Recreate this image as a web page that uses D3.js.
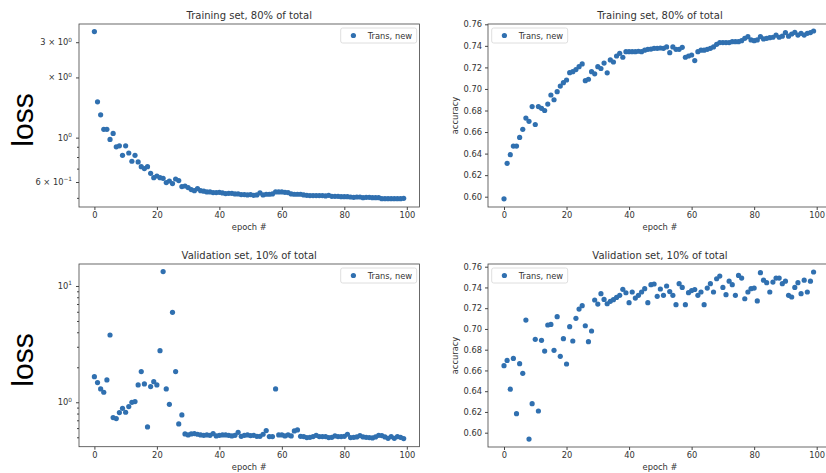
<!DOCTYPE html>
<html>
<head>
<meta charset="utf-8">
<script src="https://cdn.jsdelivr.net/npm/d3@7"></script>
<style>
body{margin:0;background:#fff}
svg text{font-family:"DejaVu Sans",sans-serif;fill:#333}
</style>
</head>
<body>
<div id="chart"></div>
<script>
var width = 826
var height = 473
var dotColor = "#3070b0"

var epochs = d3.range(0, 100)
var xTicks = [0, 20, 40, 60, 80, 100]
var accTicks = [0.60, 0.62, 0.64, 0.66, 0.68, 0.70, 0.72, 0.74, 0.76]
var seriesName = "Trans, new"

var trainLoss = [3.39, 1.51, 1.30, 1.10, 1.10, 0.98, 1.05, 0.90, 0.91, 0.816,
  0.91, 0.838, 0.762, 0.816, 0.756, 0.716, 0.70, 0.716, 0.663, 0.631,
  0.643, 0.631, 0.626, 0.596, 0.607, 0.589, 0.621, 0.610, 0.569, 0.573,
  0.563, 0.55, 0.543, 0.556, 0.543, 0.54, 0.535, 0.535, 0.531, 0.531,
  0.533, 0.529, 0.525, 0.527, 0.527, 0.523, 0.523, 0.519, 0.519, 0.517,
  0.519, 0.515, 0.517, 0.529, 0.517, 0.521, 0.521, 0.523, 0.535, 0.535,
  0.535, 0.533, 0.531, 0.523, 0.521, 0.521, 0.521, 0.517, 0.515, 0.513,
  0.513, 0.513, 0.513, 0.513, 0.511, 0.515, 0.509, 0.509, 0.509, 0.507,
  0.507, 0.507, 0.505, 0.503, 0.505, 0.505, 0.501, 0.503, 0.503, 0.501,
  0.501, 0.501, 0.495, 0.495, 0.495, 0.495, 0.495, 0.495, 0.495, 0.497]

var trainAcc = [0.598, 0.631, 0.639, 0.647, 0.647, 0.655, 0.6625, 0.673, 0.670, 0.6836,
  0.667, 0.6836, 0.682, 0.680, 0.686, 0.6944, 0.690, 0.6975, 0.7027, 0.7058,
  0.7083, 0.7151, 0.716, 0.718, 0.7207, 0.7232, 0.7077, 0.709, 0.716, 0.714,
  0.7207, 0.719, 0.724, 0.715, 0.7269, 0.725, 0.7306, 0.7331, 0.7294, 0.7346,
  0.7346, 0.7346, 0.7346, 0.735, 0.7346, 0.736, 0.7368, 0.737, 0.7377, 0.7377,
  0.738, 0.7377, 0.739, 0.7337, 0.739, 0.7368, 0.7368, 0.7386, 0.7294, 0.7306,
  0.7315, 0.7263, 0.7346, 0.736, 0.736, 0.7368, 0.7377, 0.739, 0.7414, 0.743,
  0.743, 0.743, 0.743, 0.7439, 0.7439, 0.7439, 0.7448, 0.747, 0.7485, 0.7455,
  0.7448, 0.7455, 0.7485, 0.7464, 0.747, 0.7476, 0.748, 0.750, 0.748, 0.749,
  0.7523, 0.749, 0.751, 0.7526, 0.750, 0.7516, 0.750, 0.7516, 0.7523, 0.7538]

var valLoss = [1.66, 1.476, 1.302, 1.219, 1.556, 3.79, 0.738, 0.724, 0.815, 0.888,
  0.821, 0.918, 1.0, 1.013, 1.41, 1.835, 1.438, 0.614, 1.364, 1.505,
  1.41, 2.78, 13.3, 1.302, 0.961, 5.94, 1.835, 0.651, 0.778, 0.534,
  0.524, 0.534, 0.538, 0.531, 0.524, 0.520, 0.524, 0.520, 0.538, 0.514,
  0.520, 0.524, 0.524, 0.520, 0.514, 0.520, 0.552, 0.510, 0.520, 0.524,
  0.517, 0.520, 0.510, 0.510, 0.531, 0.571, 0.507, 0.507, 1.302, 0.524,
  0.524, 0.514, 0.524, 0.514, 0.567, 0.578, 0.510, 0.507, 0.497, 0.500,
  0.507, 0.520, 0.507, 0.507, 0.507, 0.497, 0.500, 0.514, 0.507, 0.507,
  0.510, 0.531, 0.497, 0.500, 0.504, 0.517, 0.504, 0.500, 0.497, 0.494,
  0.504, 0.520, 0.517, 0.504, 0.490, 0.507, 0.490, 0.507, 0.500, 0.487]

var valAcc = [0.6646, 0.6697, 0.642, 0.6716, 0.6183, 0.6665, 0.6572, 0.7086, 0.5939, 0.628,
  0.690, 0.6209, 0.689, 0.6787, 0.7038, 0.7044, 0.6794, 0.7118, 0.6736, 0.6906,
  0.6662, 0.7022, 0.6884, 0.7102, 0.7192, 0.7224, 0.7031, 0.6877, 0.698, 0.7279,
  0.724, 0.734, 0.7285, 0.7243, 0.7266, 0.7282, 0.7304, 0.7324, 0.7382, 0.7349,
  0.7253, 0.7356, 0.7298, 0.7324, 0.7356, 0.7388, 0.7253, 0.7427, 0.7433, 0.7314,
  0.7385, 0.7324, 0.7414, 0.736, 0.7324, 0.7234, 0.7436, 0.740, 0.7234, 0.735,
  0.737, 0.738, 0.7324, 0.7356, 0.7234, 0.7394, 0.7436, 0.7356, 0.7484, 0.751,
  0.740, 0.733, 0.746, 0.7427, 0.7324, 0.7516, 0.749, 0.7291, 0.7356, 0.7388,
  0.7394, 0.727, 0.7542, 0.747, 0.7446, 0.7356, 0.7452, 0.749, 0.749, 0.7436,
  0.746, 0.7324, 0.7308, 0.740, 0.7446, 0.734, 0.747, 0.7356, 0.746, 0.7549]

// log axis labels (the "2" of the 2x10^0 label is hidden in the original)
var trainLossTickVals = [3, 2, 1, 0.6]
var trainLossTickText = [["3 × 10", "0"], ["× 10", "0"], ["10", "0"], ["6 × 10", "−1"]]
var valLossTickVals = [10, 1]
var valLossTickText = [["10", "1"], ["10", "0"]]

var svg = d3.select("#chart").append("svg").attr("width", width).attr("height", height)

function drawPanel(p) {
  var g = svg.append("g")
  var x = d3.scaleLinear().domain([0, 100]).range([p.x0, p.x100])
  var y = p.log ? d3.scaleLog().domain(p.yDomain).range([p.bottom, p.top])
                : d3.scaleLinear().domain(p.yDomain).range([p.bottom, p.top])

  var xAxis = g.append("g").attr("transform", "translate(0," + p.bottom + ")")
    .call(d3.axisBottom(x).tickValues(xTicks).tickSize(3).tickPadding(2.5))
  xAxis.select(".domain").remove()
  xAxis.selectAll("text").attr("font-size", 8.3).attr("font-family", null)
  xAxis.selectAll("line").attr("stroke", "#444")

  if (p.log) {
    var minors = []
    ;[0.1, 1, 10].forEach(function(dec) {
      for (var k = 2; k < 10; k++) minors.push(dec * k)
    })
    minors = minors.filter(function(v) { return v > p.yDomain[0] && v < p.yDomain[1] && p.tickVals.indexOf(v) < 0 })
    var minorAxis = g.append("g").attr("transform", "translate(" + p.left + ",0)")
      .call(d3.axisLeft(y).tickValues(minors).tickSize(2).tickFormat(""))
    minorAxis.select(".domain").remove()
    minorAxis.selectAll("line").attr("stroke", "#444")
    var majorAxis = g.append("g").attr("transform", "translate(" + p.left + ",0)")
      .call(d3.axisLeft(y).tickValues(p.tickVals).tickSize(3).tickFormat(""))
    majorAxis.select(".domain").remove()
    majorAxis.selectAll("line").attr("stroke", "#444")
    var labels = g.selectAll(".ylab").data(p.tickVals).enter().append("text")
      .attr("x", p.left - 7)
      .attr("y", function(d) { return y(d) + 3 })
      .attr("text-anchor", "end")
      .attr("font-size", 8.3)
    labels.append("tspan").text(function(d, i) { return p.tickText[i][0] })
    labels.append("tspan").attr("dy", -3.6).attr("font-size", 5.8)
      .text(function(d, i) { return p.tickText[i][1] })
  } else {
    var yAxis = g.append("g").attr("transform", "translate(" + p.left + ",0)")
      .call(d3.axisLeft(y).tickValues(accTicks).tickFormat(d3.format(".2f")).tickSize(3).tickPadding(3))
    yAxis.select(".domain").remove()
    yAxis.selectAll("text").attr("font-size", 8.3).attr("font-family", null)
    yAxis.selectAll("line").attr("stroke", "#444")
    g.append("text")
      .attr("transform", "translate(" + (p.left - 30) + "," + ((p.top + p.bottom) / 2) + ") rotate(-90)")
      .attr("text-anchor", "middle")
      .attr("font-size", 8.3)
      .text("accuracy")
  }

  g.append("rect")
    .attr("x", p.left).attr("y", p.top)
    .attr("width", p.right - p.left).attr("height", p.bottom - p.top)
    .attr("fill", "none").attr("stroke", "#444").attr("stroke-width", 0.8)

  g.selectAll("circle").data(p.values).enter().append("circle")
    .attr("cx", function(d, i) { return x(epochs[i]) })
    .attr("cy", function(d) { return y(d) })
    .attr("r", 2.6)
    .attr("fill", dotColor)

  g.append("text")
    .attr("x", (p.left + p.right) / 2).attr("y", p.top - 5.5)
    .attr("text-anchor", "middle").attr("font-size", 10)
    .text(p.title)
  g.append("text")
    .attr("x", (p.left + p.right) / 2).attr("y", p.bottom + 23.3)
    .attr("text-anchor", "middle").attr("font-size", 8.3)
    .text("epoch #")

  // legend
  var lg = g.append("g").attr("transform", "translate(" + p.legX + "," + (p.top + 4) + ")")
  lg.append("rect").attr("width", 76).attr("height", 15).attr("rx", 2)
    .attr("fill", "#fff").attr("stroke", "#d6d6d6").attr("stroke-width", 0.8)
  lg.append("circle").attr("cx", 12.7).attr("cy", 7.5).attr("r", 2.6).attr("fill", dotColor)
  lg.append("text").attr("x", 27).attr("y", 10.5).attr("font-size", 8.3).text(seriesName)
}

drawPanel({ left: 79, right: 419.5, top: 24, bottom: 207, x0: 94.4, x100: 406.8,
  log: true, yDomain: [0.450, 3.70], values: trainLoss, tickVals: trainLossTickVals,
  tickText: trainLossTickText, title: "Training set, 80% of total", legX: 340.7 })
drawPanel({ left: 488, right: 832, top: 24, bottom: 207, x0: 504, x100: 816.7,
  log: false, yDomain: [0.59044, 0.76028], values: trainAcc,
  title: "Training set, 80% of total", legX: 491.7 })
drawPanel({ left: 79, right: 419.5, top: 264, bottom: 446.7, x0: 94.4, x100: 406.8,
  log: true, yDomain: [0.415, 15.45], values: valLoss, tickVals: valLossTickVals,
  tickText: valLossTickText, title: "Validation set, 10% of total", legX: 340.7 })
drawPanel({ left: 488, right: 832, top: 264, bottom: 447, x0: 504, x100: 816.7,
  log: false, yDomain: [0.58622, 0.7626], values: valAcc,
  title: "Validation set, 10% of total", legX: 491.7 })

// large overlaid axis labels
svg.selectAll(".big").data([120, 360]).enter().append("text")
  .attr("transform", function(d) { return "translate(33," + d + ") rotate(-90)" })
  .attr("text-anchor", "middle")
  .style("font-family", "'Liberation Sans', Arial, sans-serif")
  .style("fill", "#000")
  .attr("font-size", 30)
  .text("loss")
</script>
</body>
</html>
